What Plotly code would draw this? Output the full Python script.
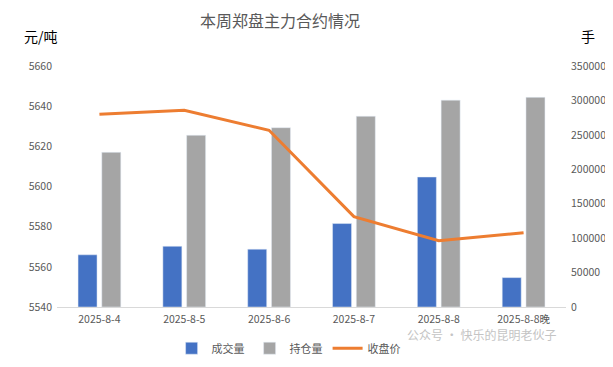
import plotly.graph_objects as go

categories = ["2025-8-4", "2025-8-5", "2025-8-6", "2025-8-7", "2025-8-8", "2025-8-8晚"]
volume = [75800, 88200, 84000, 121200, 188800, 42700]
open_interest = [224600, 249400, 260400, 277000, 300400, 304500]
close_price = [5636, 5638, 5628, 5585, 5573, 5577]

left_ticks = [5540, 5560, 5580, 5600, 5620, 5640, 5660]
right_ticks = [0, 50000, 100000, 150000, 200000, 250000, 300000, 350000]

FONT = "Noto Sans CJK SC"
TICKC = "#595959"
fig = go.Figure()
fig.add_trace(go.Bar(x=categories, y=volume, name="成交量", marker_color="#4472C4", yaxis="y"))
fig.add_trace(go.Bar(x=categories, y=open_interest, name="持仓量", marker_color="#A5A5A5", yaxis="y"))
fig.add_trace(go.Scatter(x=categories, y=close_price, name="收盘价", mode="lines",
                         line=dict(color="#ED7D31", width=3), yaxis="y2"))

fig.update_layout(
    width=613, height=367,
    margin=dict(l=49, r=55, t=58, b=58),
    paper_bgcolor="white", plot_bgcolor="white",
    font=dict(family=FONT, size=10.5, color=TICKC),
    title=dict(text="本周郑盘主力合约情况", x=272 / 613, xanchor="center", y=0.963, yanchor="middle",
               font=dict(size=16, color="#595959", family=FONT)),
    barmode="group", bargap=0.44, bargroupgap=0.2,
    xaxis=dict(type="category", showgrid=False, showline=True, linecolor="#D9D9D9", linewidth=1,
               ticks="", tickfont=dict(size=10.5, color=TICKC), ticklabelstandoff=2),
    yaxis=dict(side="right", range=[0, 350000], tickvals=right_ticks, tickformat="d", showgrid=False,
               zeroline=False, tickfont=dict(size=10.5, color=TICKC), ticks="", ticklabelstandoff=4),
    yaxis2=dict(side="left", overlaying="y", range=[5540, 5660], tickvals=left_ticks, tickformat="d",
                showgrid=False, zeroline=False, tickfont=dict(size=10.5, color=TICKC), ticks="",
                ticklabelstandoff=4),
    legend=dict(orientation="h", x=0.455, xanchor="center", y=-0.171, yanchor="middle",
                font=dict(size=11, color=TICKC), traceorder="normal",
                itemwidth=30, tracegroupgap=0),
    showlegend=True,
    annotations=[
        dict(text="元/吨", xref="paper", yref="paper", x=-0.068, y=1.125, xanchor="left", yanchor="middle",
             showarrow=False, font=dict(size=14, color="#000000", family=FONT)),
        dict(text="手", xref="paper", yref="paper", x=1.026, y=1.125, xanchor="left", yanchor="middle",
             showarrow=False, font=dict(size=14, color="#000000", family=FONT)),
        dict(text="公众号 · 快乐的昆明老伙子", xref="paper", yref="paper", x=0.985, y=-0.116,
             xanchor="right", yanchor="middle", showarrow=False,
             font=dict(size=12, color="#C4C4C4", family=FONT)),
    ],
)
fig.write_html("out.html")
